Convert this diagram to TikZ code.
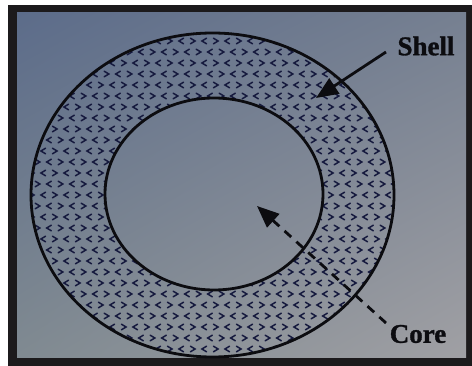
\documentclass[tikz,border=0pt]{standalone}
\usepackage{fontspec}
\setmainfont{Liberation Serif}
\newfontfamily\lblfont[FakeBold=1.2]{Liberation Serif Bold}
\usetikzlibrary{arrows.meta,shadings}
\definecolor{frame}{RGB}{28,26,28}
\definecolor{ink}{RGB}{12,12,16}
\definecolor{dots}{RGB}{22,26,62}
\definecolor{bgtl}{RGB}{92,108,138}
\definecolor{bgtr}{RGB}{118,128,145}
\definecolor{bgbl}{RGB}{128,138,145}
\definecolor{bgbr}{RGB}{160,160,164}
\tikzset{
  rim/.style={draw=ink,line width=2.8pt},
  chev/.style={draw=dots,line width=1.5pt,line cap=round,line join=miter},
  lbl/.style={font=\lblfont\fontsize{27}{27}\selectfont,text=ink,inner sep=2pt},
  pointer/.style={draw=ink,line width=2.8pt,-{Triangle[length=22pt,width=18pt]}},
}
\begin{document}
\begin{tikzpicture}[x=1pt,y=-1pt]
\useasboundingbox (0,0) rectangle (472,366);
\fill[white] (0,0) rectangle (472,366);
\fill[frame] (8,5) rectangle (472,366);
\shade[upper left=bgtl,upper right=bgtr,lower left=bgbl,lower right=bgbr] (17,13) rectangle (466,358);
% pattern in annulus
\begin{scope}
\clip (394,195) arc[start angle=0,end angle=360,x radius=181.5,y radius=162]
      (323,194) arc[start angle=0,end angle=-360,x radius=109,y radius=96];
\foreach \j in {0,...,30}{
  \foreach \i in {0,...,32}{
    \pgfmathsetmacro{\xx}{26+11.5*\i+5.75*mod(\j,2)}
    \pgfmathsetmacro{\yy}{30+11*\j}
    \pgfmathsetmacro{\dd}{ifthenelse(mod(\i+\j,2)==0,1,-1)*2.3}
    \draw[chev] (\xx+\dd,\yy-2.8) -- (\xx-\dd,\yy) -- (\xx+\dd,\yy+2.8);
  }
}
\end{scope}
\draw[rim] (212.5,195) ellipse[x radius=181.5,y radius=162];
\draw[rim] (214,194) ellipse[x radius=109,y radius=96];
% labels
\node[lbl] (shell) at (426,46) {Shell};
\node[lbl] (core) at (418,334) {Core};
\coordinate (shellfrom) at (386,52);
\coordinate (shelltip) at (316,98);
\coordinate (corefrom) at (386,323);
\coordinate (coretip) at (257,206);
\draw[pointer] (shellfrom) -- (shelltip);
\draw[pointer,dash pattern=on 9pt off 7pt] (corefrom) -- (coretip);
\end{tikzpicture}
\end{document}
